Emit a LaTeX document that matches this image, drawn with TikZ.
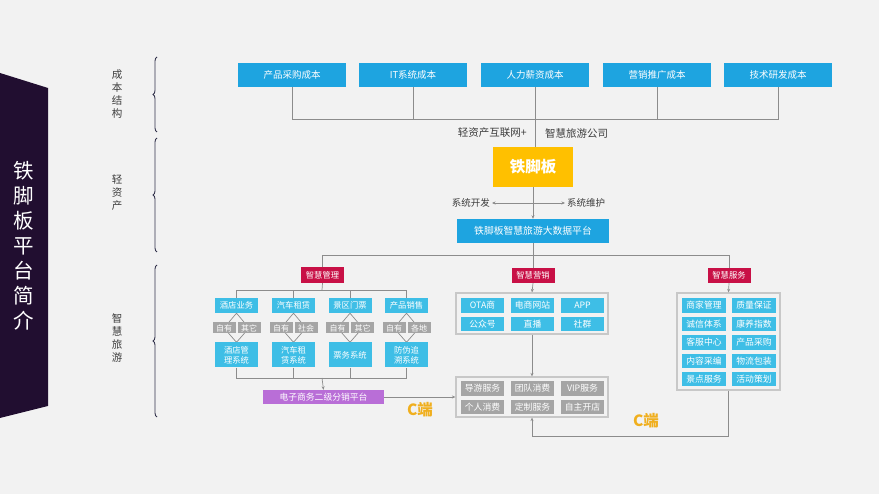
\documentclass[tikz,border=0pt]{standalone}
\usepackage{fontspec}
\setmainfont{Noto Sans CJK SC}
\usetikzlibrary{arrows.meta,decorations.pathreplacing,backgrounds}

\definecolor{paper}{RGB}{242,242,242}
\definecolor{banner}{RGB}{33,14,48}
\definecolor{costblue}{RGB}{30,164,224}
\definecolor{subblue}{RGB}{62,190,230}
\definecolor{gold}{RGB}{255,192,0}
\definecolor{rosered}{RGB}{200,16,70}
\definecolor{lilac}{RGB}{185,110,215}
\definecolor{boxgray}{RGB}{165,165,165}
\definecolor{framegray}{RGB}{200,200,200}
\definecolor{linegray}{RGB}{140,140,140}
\definecolor{inkgray}{RGB}{60,60,60}
\definecolor{bracecol}{RGB}{50,50,75}
\definecolor{cend}{RGB}{240,175,30}

\begin{document}
\begin{tikzpicture}[x=1pt,y=-1pt,
  costbox/.style={fill=costblue,text=white,minimum width=108pt,minimum height=24pt,inner sep=0pt,font=\fontsize{9.5}{10}\selectfont},
  tagbox/.style={fill=rosered,text=white,minimum width=43pt,minimum height=15pt,inner sep=0pt,font=\fontsize{8.3}{9}\selectfont},
  bizbox/.style={fill=subblue,text=white,minimum width=43pt,minimum height=15pt,inner sep=0pt,font=\fontsize{8.3}{9}\selectfont},
  sysbox/.style={fill=subblue,text=white,minimum width=43pt,minimum height=25pt,inner sep=0pt,align=center,font=\fontsize{8.3}{10}\selectfont},
  ownbox/.style={fill=boxgray,text=white,minimum width=23pt,minimum height=11pt,inner sep=0pt,font=\fontsize{8}{8}\selectfont},
  cellbox/.style={fill=subblue,text=white,minimum width=43pt,minimum height=14.5pt,inner sep=0pt,font=\fontsize{8.8}{9}\selectfont},
  graycell/.style={fill=boxgray,text=white,minimum width=43pt,minimum height=14.5pt,inner sep=0pt,font=\fontsize{8.8}{9}\selectfont},
  groupframe/.style={draw=framegray,line width=1.2pt,inner sep=0pt},
  wire/.style={draw=linegray,line width=0.7pt},
  tip/.style={wire,-{Stealth[length=3.5pt,width=3pt]}},
  note/.style={text=inkgray,inner sep=2pt},
  bracelabel/.style={text=inkgray,align=center,font=\fontsize{10.5}{13}\selectfont},
  brace/.style={draw=bracecol,line width=0.9pt,decorate,decoration={brace,amplitude=4pt}},
  cmark/.style={text=cend,font=\fontsize{15.5}{16}\selectfont\bfseries}]

  % Paper
  \begin{pgfonlayer}{background}
    \fill[paper] (0,0) rectangle (879,494);
  \end{pgfonlayer}

  % Title banner
  \fill[banner] (0,73) -- (48,88) -- (48,406) -- (0,418) -- cycle;
  \node[text=white,align=center,font=\fontsize{20.5}{25}\selectfont] (title) at (24,246)
    {铁\\脚\\板\\平\\台\\简\\介};

  % Braces and their labels
  \draw[brace] (157,132) -- (157,57);
  \draw[brace] (157,252) -- (157,138);
  \draw[brace] (157,417) -- (157,265);
  \node[bracelabel] (costlab) at (117,94) {成\\本\\结\\构};
  \node[bracelabel] (lightlab) at (117,193) {轻\\资\\产};
  \node[bracelabel] (tourlab) at (117,338) {智\\慧\\旅\\游};

  % Cost structure
  \node[costbox] (cost1) at (292,75) {产品采购成本};
  \node[costbox] (cost2) at (413,75) {IT系统成本};
  \node[costbox] (cost3) at (535,75) {人力薪资成本};
  \node[costbox] (cost4) at (657,75) {营销推广成本};
  \node[costbox] (cost5) at (778,75) {技术研发成本};
  \coordinate (costbar) at (535,119);

  \node[note,anchor=east,font=\fontsize{10.5}{11}\selectfont] (lightnet) at (529,133) {轻资产互联网+};
  \node[note,anchor=west,font=\fontsize{10.5}{11}\selectfont] (smartco) at (543,133) {智慧旅游公司};

  % Light assets
  \node[fill=gold,text=white,minimum width=80pt,minimum height=40pt,inner sep=0pt,
        font=\fontsize{15.5}{16}\selectfont\bfseries] (tjb) at (533,167) {铁脚板};
  \node[note,anchor=east,font=\fontsize{9.5}{10}\selectfont] (dev) at (492,203) {系统开发};
  \node[note,anchor=west,font=\fontsize{9.5}{10}\selectfont] (maint) at (565,203) {系统维护};
  \node[fill=costblue,text=white,minimum width=152pt,minimum height=24pt,inner sep=0pt,
        font=\fontsize{9.8}{10}\selectfont] (platform) at (533,231) {铁脚板智慧旅游大数据平台};
  \coordinate (split) at (533,255);

  % Smart tourism
  \node[tagbox,minimum height=16pt] (mgmt) at (322.5,275) {智慧管理};
  \node[tagbox] (mkt) at (533,275.5) {智慧营销};
  \node[tagbox] (serv) at (729,275.5) {智慧服务};

  % Management branch
  \coordinate (mtop) at (322,290);
  \node[bizbox] (hotel) at (236.5,305.5) {酒店业务};
  \node[bizbox] (car) at (293.5,305.5) {汽车租赁};
  \node[bizbox] (ticket) at (350,305.5) {景区门票};
  \node[bizbox] (prod) at (406.5,305.5) {产品销售};

  \node[ownbox] (hotelA) at (224,328) {自有};
  \node[ownbox] (hotelB) at (249,328) {其它};
  \node[ownbox] (carA) at (281,328) {自有};
  \node[ownbox] (carB) at (306,328) {社会};
  \node[ownbox] (ticketA) at (337.5,328) {自有};
  \node[ownbox] (ticketB) at (362.5,328) {其它};
  \node[ownbox] (prodA) at (394,328) {自有};
  \node[ownbox] (prodB) at (419,328) {各地};

  \node[sysbox] (hotelsys) at (236.5,355) {酒店管\\理系统};
  \node[sysbox] (carsys) at (293.5,355) {汽车租\\赁系统};
  \node[sysbox] (ticketsys) at (350,355) {票务系统};
  \node[sysbox] (prodsys) at (406.5,355) {防伪追\\溯系统};

  \coordinate (mbot) at (322,378);
  \node[fill=lilac,text=white,minimum width=121pt,minimum height=14pt,inner sep=0pt,
        font=\fontsize{8.8}{9}\selectfont] (ecom) at (323.5,397) {电子商务二级分销平台};

  % Marketing branch
  \node[groupframe,minimum width=152pt,minimum height=41pt] (mktframe) at (532,313.5) {};
  \node[cellbox] (ota) at (482.5,305.5) {OTA商};
  \node[cellbox] (eshop) at (532.5,305.5) {电商网站};
  \node[cellbox] (app) at (582.5,305.5) {APP};
  \node[cellbox] (wechat) at (482.5,324) {公众号};
  \node[cellbox] (live) at (532.5,324) {直播};
  \node[cellbox] (social) at (582.5,324) {社群};

  % Consumers
  \node[groupframe,minimum width=152pt,minimum height=40pt] (consframe) at (532,397) {};
  \node[graycell] (guide) at (482.5,388.5) {导游服务};
  \node[graycell] (team) at (532.5,388.5) {团队消费};
  \node[graycell] (vip) at (582.5,388.5) {VIP服务};
  \node[graycell] (single) at (482.5,407) {个人消费};
  \node[graycell] (custom) at (532.5,407) {定制服务};
  \node[graycell] (ownshop) at (582.5,407) {自主开店};
  \coordinate (cturn) at (532,436);
  \node[cmark] (cleft) at (420,410) {C端};
  \node[cmark] (cright) at (646,421) {C端};

  % Service branch
  \node[groupframe,minimum width=103pt,minimum height=97pt] (servframe) at (728.5,341.5) {};
  \node[cellbox,minimum width=44pt] (merchant) at (704,305.5) {商家管理};
  \node[cellbox,minimum width=44pt] (quality) at (754,305.5) {质量保证};
  \node[cellbox,minimum width=44pt] (credit) at (704,324) {诚信体系};
  \node[cellbox,minimum width=44pt] (health) at (754,324) {康养指数};
  \node[cellbox,minimum width=44pt] (support) at (704,342.5) {客服中心};
  \node[cellbox,minimum width=44pt] (purchase) at (754,342.5) {产品采购};
  \node[cellbox,minimum width=44pt] (content) at (704,361) {内容采编};
  \node[cellbox,minimum width=44pt] (logistics) at (754,361) {物流包装};
  \node[cellbox,minimum width=44pt] (spot) at (704,379) {景点服务};
  \node[cellbox,minimum width=44pt] (events) at (754,379) {活动策划};

  % Connectors
  \draw[wire] (cost1.south) |- (cost5.south |- costbar) -- (cost5.south);
  \draw[wire] (cost2.south) -- (cost2.south |- costbar);
  \draw[wire] (cost4.south) -- (cost4.south |- costbar);
  \draw[wire] (cost3.south) -- (cost3.south |- tjb.north);
  \draw[tip] (tjb.south) -- (platform.north);
  \draw[wire,{Stealth[length=3.5pt,width=3pt]}-{Stealth[length=3.5pt,width=3pt]}] (dev.east) -- (maint.west);
  \draw[wire] (platform.south) -- (split);
  \draw[wire] (mgmt.north) |- (serv.north |- split) -- (serv.north);
  \draw[wire] (mkt.north) -- (mkt.north |- split);

  \draw[wire] (mgmt.south) -- (mtop);
  \draw[wire] (hotel.north) |- (prod.north |- mtop) -- (prod.north);
  \draw[wire] (car.north) -- (car.north |- mtop);
  \draw[wire] (ticket.north) -- (ticket.north |- mtop);
  \begin{pgfonlayer}{background}
    \draw[wire] (hotel.south) -- (hotelA.center) -- (hotelsys.north) -- (hotelB.center) -- cycle;
    \draw[wire] (car.south) -- (carA.center) -- (carsys.north) -- (carB.center) -- cycle;
    \draw[wire] (ticket.south) -- (ticketA.center) -- (ticketsys.north) -- (ticketB.center) -- cycle;
    \draw[wire] (prod.south) -- (prodA.center) -- (prodsys.north) -- (prodB.center) -- cycle;
  \end{pgfonlayer}
  \draw[wire] (hotelsys.south) |- (prodsys.south |- mbot) -- (prodsys.south);
  \draw[wire] (carsys.south) -- (carsys.south |- mbot);
  \draw[wire] (ticketsys.south) -- (ticketsys.south |- mbot);
  \draw[tip] (mbot) -- (ecom.north);
  \draw[tip] (ecom.east) -- (consframe.west);

  \draw[tip] (mkt.south) -- (mktframe.north);
  \draw[tip] (mktframe.south) -- (consframe.north);
  \draw[tip] (serv.south) -- (servframe.north);
  \draw[tip] (servframe.south) |- (cturn) -- (consframe.south);
\end{tikzpicture}
\end{document}
